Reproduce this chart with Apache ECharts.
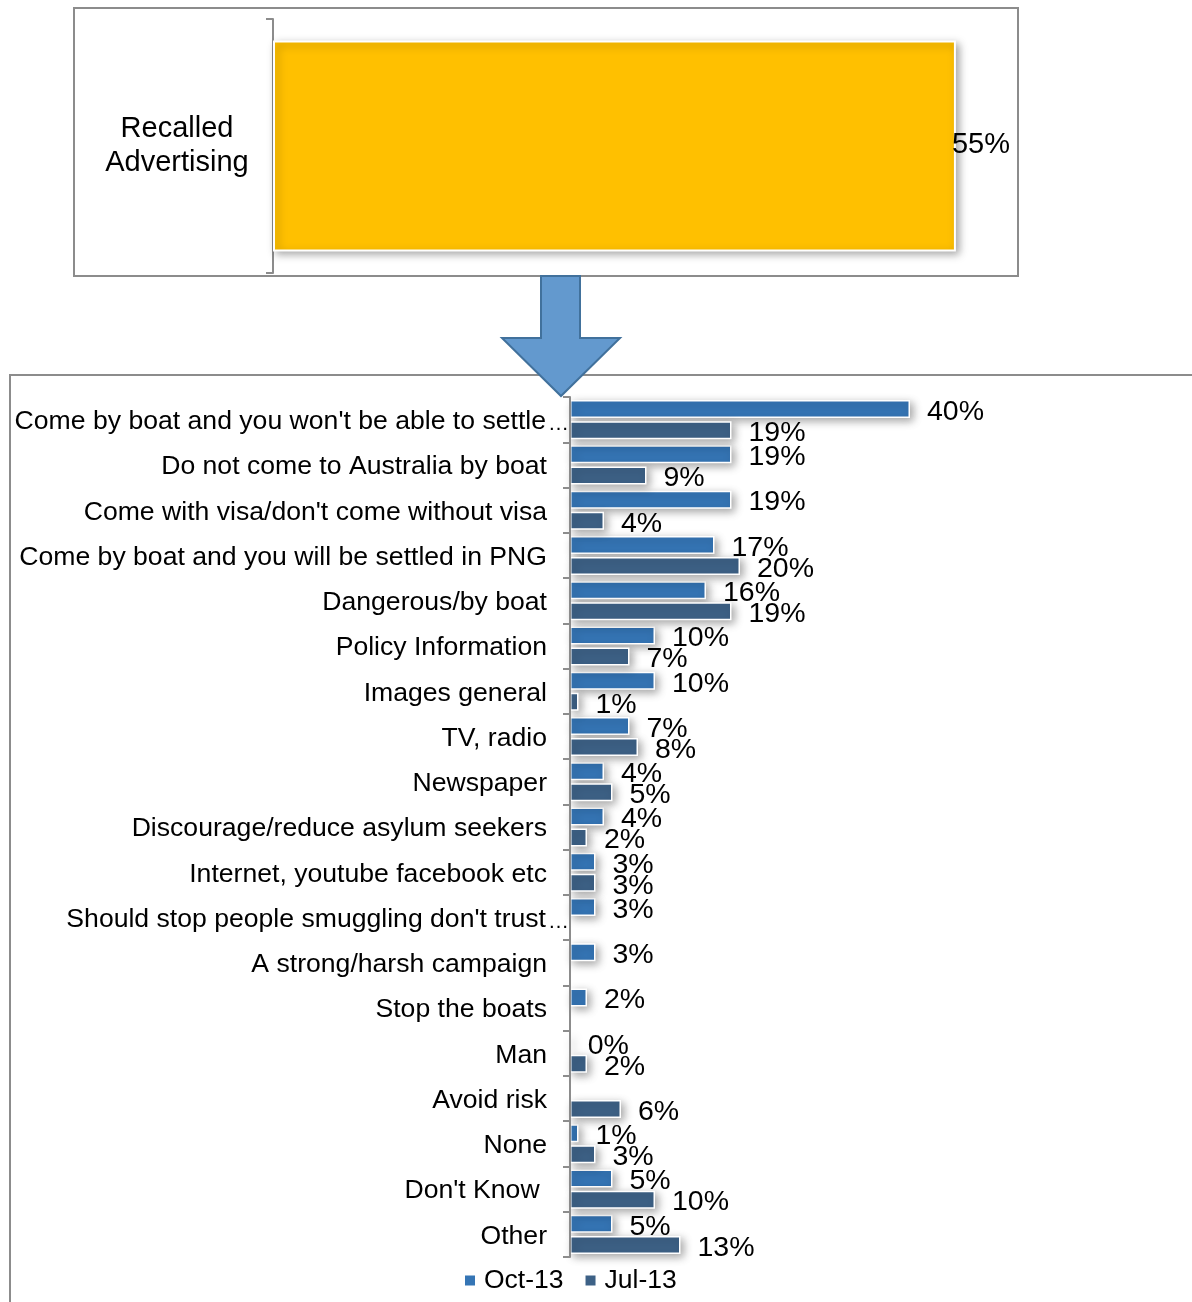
<!DOCTYPE html>
<html>
<head>
<meta charset="utf-8">
<script src="https://cdn.jsdelivr.net/npm/echarts@6/dist/echarts.min.js"></script>
<style>
html,body{margin:0;padding:0;background:#fff;}
#chart{width:1192px;height:1302px;}
</style>
</head>
<body>
<div id="chart"></div>
<script>
// ---- data ----
const topCategories = ['Recalled Advertising'];
const topValues = [55];

const categories = [
  "Come by boat and you won't be able to settle…",
  "Do not come to Australia by boat",
  "Come with visa/don't come without visa",
  "Come by boat and you will be settled in PNG",
  "Dangerous/by boat",
  "Policy Information",
  "Images general",
  "TV, radio",
  "Newspaper",
  "Discourage/reduce asylum seekers",
  "Internet, youtube facebook etc",
  "Should stop people smuggling don't trust…",
  "A strong/harsh campaign",
  "Stop the boats",
  "Man",
  "Avoid risk",
  "None",
  "Don't Know ",
  "Other"
];
const oct13 = [40, 19, 19, 17, 16, 10, 10, 7, 4, 4, 3, 3, 3, 2, 0, null, 1, 5, 5];
const jul13 = [19, 9, 4, 20, 19, 7, 1, 8, 5, 2, 3, null, null, null, 2, 6, 3, 10, 13];
const seriesNames = ['Oct-13', 'Jul-13'];

// ---- chart ----
const FONT = '"Liberation Sans", Arial, sans-serif';
const chart = echarts.init(document.getElementById('chart'), null, {renderer: 'canvas'});

const barShadow = {
  shadowBlur: 8, shadowOffsetX: 3, shadowOffsetY: 3, shadowColor: 'rgba(0,0,0,0.35)'
};

function pct(p) { return p.value == null ? '' : p.value + '%'; }

const option = {
  animation: false,
  backgroundColor: '#fff',
  textStyle: {fontFamily: FONT},
  graphic: [
    {type: 'rect', z: -10, shape: {x: 74, y: 8, width: 944, height: 268},
     style: {fill: '#fff', stroke: '#8c8c8c', lineWidth: 2}},
    {type: 'rect', z: -10, shape: {x: 10, y: 375, width: 1250, height: 1000},
     style: {fill: '#fff', stroke: '#8c8c8c', lineWidth: 2}},
    {type: 'polygon', z: 100, shape: {points: [[541, 276], [580, 276], [580, 338], [620, 338], [561, 396], [502, 338], [541, 338]]},
     style: {fill: '#6399CE', stroke: '#41719C', lineWidth: 2}}
  ],
  legend: {
    data: seriesNames,
    left: 460, top: 1262,
    itemWidth: 10, itemHeight: 10, itemGap: 22,
    icon: 'rect',
    itemStyle: {borderWidth: 0, shadowBlur: 0, shadowOffsetX: 0, shadowOffsetY: 0},
    textStyle: {fontSize: 26.5, color: '#000', fontFamily: FONT, padding: [0, 0, 0, 4]}
  },
  grid: [
    {left: 273, top: 19, width: 745, height: 254, containLabel: false},
    {left: 570, top: 397, width: 340, height: 860, containLabel: false}
  ],
  xAxis: [
    {gridIndex: 0, type: 'value', min: 0, max: 60, show: false},
    {gridIndex: 1, type: 'value', min: 0, max: 40, show: false}
  ],
  yAxis: [
    {gridIndex: 0, type: 'category', data: topCategories,
     axisLine: {show: true, lineStyle: {color: '#8c8c8c', width: 2}},
     axisTick: {show: true, length: 7, lineStyle: {color: '#8c8c8c', width: 2}},
     axisLabel: {fontSize: 29, color: '#000', fontFamily: FONT, margin: 96, align: 'center', lineHeight: 34,
       padding: [4, 0, 0, 0],
       formatter: v => v.replace(' ', '\n')}},
    {gridIndex: 1, type: 'category', data: categories, inverse: true, z: 3,
     axisLine: {show: true, lineStyle: {color: '#8c8c8c', width: 2}},
     axisTick: {show: true, length: 7, lineStyle: {color: '#8c8c8c', width: 2}},
     axisLabel: {color: '#000', fontFamily: FONT, margin: 0, interval: 0,
       formatter: function (v) {
         if (v.endsWith('…')) {
           return '{t|' + v.slice(0, -1) + '}{e|…}';
         }
         return '{t|' + v + '}{s| }';
       },
       rich: {
         t: {fontSize: 26.6, color: '#000', fontFamily: FONT, padding: [4, 0, 0, 0]},
         e: {fontSize: 21, color: '#000', fontFamily: FONT, width: 23, align: 'left', padding: [10, 0, 0, 1]},
         s: {fontSize: 21, fontFamily: FONT, width: 23}
       }}}
  ],
  series: [
    {type: 'bar', xAxisIndex: 0, yAxisIndex: 0, data: topValues, barCategoryGap: '17%',
     itemStyle: Object.assign({color: '#FFC000', borderColor: '#fff', borderWidth: 2}, barShadow),
     label: {show: true, position: 'right', distance: -4, offset: [0, -1], formatter: pct, fontSize: 29, color: '#000', fontFamily: FONT},
     silent: true},
    {name: seriesNames[0], type: 'bar', xAxisIndex: 1, yAxisIndex: 1, data: oct13,
     barWidth: 18, barGap: '17%',
     itemStyle: Object.assign({color: '#3575B5', borderColor: '#fff', borderWidth: 1.5}, barShadow),
     label: {show: true, position: 'right', distance: 17, offset: [0, 3], formatter: pct, fontSize: 28.5, color: '#000', fontFamily: FONT}},
    {name: seriesNames[1], type: 'bar', xAxisIndex: 1, yAxisIndex: 1, data: jul13,
     barWidth: 18, barGap: '17%',
     itemStyle: Object.assign({color: '#3D6186', borderColor: '#fff', borderWidth: 1.5}, barShadow),
     label: {show: true, position: 'right', distance: 17, offset: [0, 3], formatter: pct, fontSize: 28.5, color: '#000', fontFamily: FONT}}
  ]
};
chart.setOption(option);
</script>
</body>
</html>
